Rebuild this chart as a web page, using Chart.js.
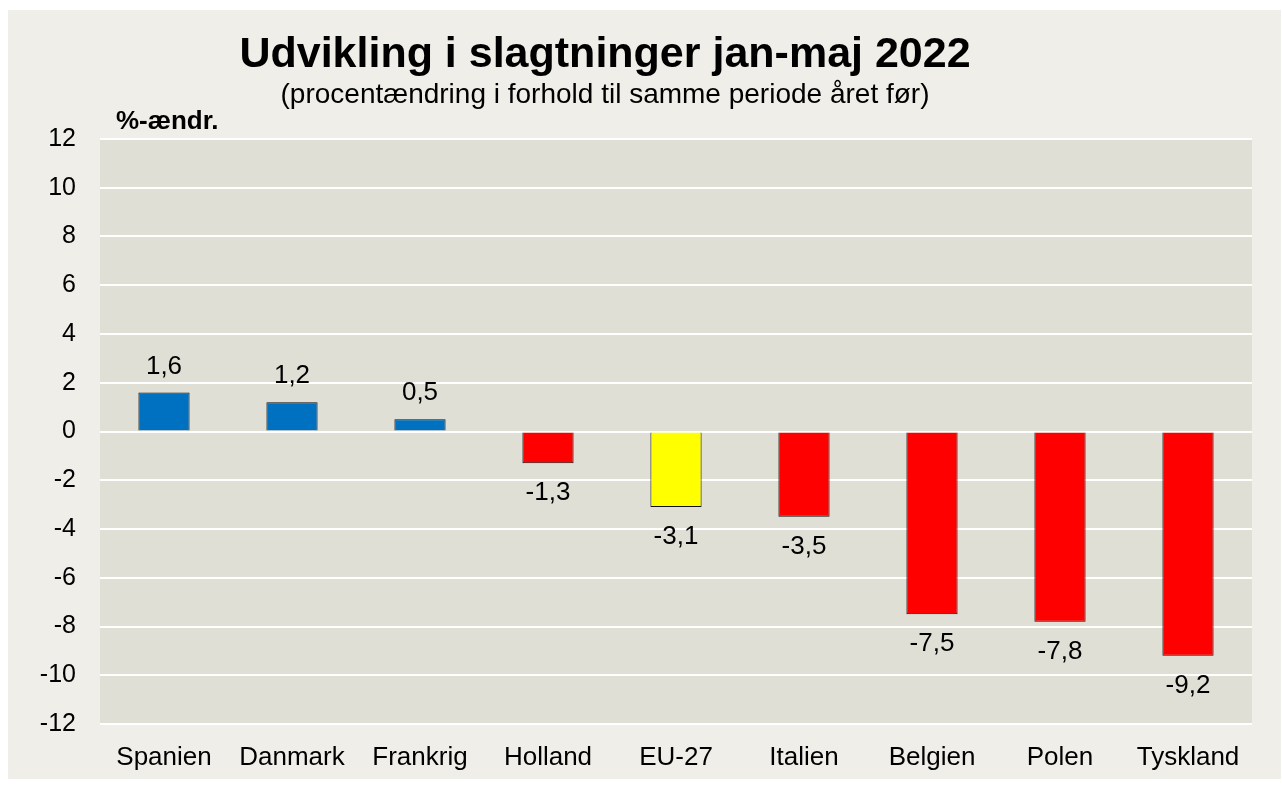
<!DOCTYPE html>
<html>
<head>
<meta charset="utf-8">
<script src="https://cdn.jsdelivr.net/npm/chart.js@4.4.0/dist/chart.umd.min.js"></script>
<style>
  html, body { margin: 0; padding: 0; background: #ffffff; }
  #wrap { width: 1282px; height: 789px; }
</style>
</head>
<body>
<div id="wrap"><canvas id="slagtChart" width="1282" height="789"></canvas></div>
<script>
const countries = ['Spanien', 'Danmark', 'Frankrig', 'Holland', 'EU-27', 'Italien', 'Belgien', 'Polen', 'Tyskland'];
const changePct = [1.6, 1.2, 0.5, -1.3, -3.1, -3.5, -7.5, -7.8, -9.2];
const yTicks = [-12, -10, -8, -6, -4, -2, 0, 2, 4, 6, 8, 10, 12];

// colours: blue up, red down, EU-27 in yellow
const barColors = ['#0070C0', '#0070C0', '#0070C0', '#FF0000', '#FFFF00', '#FF0000', '#FF0000', '#FF0000', '#FF0000'];

const FONT = "'Liberation Sans', Arial, sans-serif";

// background boxes + titles
const backdrop = {
    id: 'backdrop',
    beforeDraw(chart) {
        const ctx = chart.ctx;
        const a = chart.chartArea;
        ctx.save();
        ctx.fillStyle = '#EFEEE8';
        ctx.fillRect(8, 10, 1273, 769);
        ctx.fillStyle = '#E0DFD5';
        ctx.fillRect(a.left, a.top, a.right - a.left, a.bottom - a.top);
        ctx.restore();
    },
    afterDraw(chart) {
        const ctx = chart.ctx;
        ctx.save();
        ctx.fillStyle = '#000';
        ctx.textAlign = 'center';
        ctx.textBaseline = 'alphabetic';
        ctx.font = 'bold 43px ' + FONT;
        ctx.fillText('Udvikling i slagtninger jan-maj 2022', 605, 67);
        ctx.font = '28px ' + FONT;
        ctx.fillText('(procentændring i forhold til samme periode året før)', 605, 103);
        ctx.textAlign = 'left';
        ctx.font = 'bold 26px ' + FONT;
        ctx.fillText('%-ændr.', 116, 129);
        ctx.restore();
    }
};

// value labels above / below the bars
const valueLabels = {
    id: 'valueLabels',
    afterDatasetsDraw(chart) {
        const ctx = chart.ctx;
        const meta = chart.getDatasetMeta(0);
        ctx.save();
        ctx.fillStyle = '#000';
        ctx.font = '26px ' + FONT;
        ctx.textAlign = 'center';
        ctx.textBaseline = 'middle';
        meta.data.forEach((bar, i) => {
            const v = changePct[i];
            const txt = v.toFixed(1).replace('.', ',');
            const y = v >= 0 ? bar.y - 26 : bar.y + 30;
            ctx.fillText(txt, bar.x, y);
        });
        ctx.restore();
    }
};

new Chart(document.getElementById('slagtChart'), {
    type: 'bar',
    data: {
        labels: countries,
        datasets: [{
            data: changePct,
            backgroundColor: barColors,
            borderColor: '#111111',
            borderWidth: 1,
            barPercentage: 0.4,
            categoryPercentage: 1.0
        }]
    },
    options: {
        responsive: false,
        animation: false,
        devicePixelRatio: 1,
        layout: { padding: { left: 0, top: 139, right: 30, bottom: 0 } },
        plugins: {
            legend: { display: false },
            tooltip: { enabled: false },
            title: { display: false }
        },
        scales: {
            x: {
                grid: { display: false, drawTicks: false },
                border: { display: false },
                ticks: { color: '#000', font: { family: FONT, size: 26 }, padding: 18, maxRotation: 0 },
                afterFit(scale) { scale.height = 65; }
            },
            y: {
                min: -12,
                max: 12,
                afterBuildTicks(scale) { scale.ticks = yTicks.map(v => ({ value: v })); },
                grid: { color: '#FFFFFF', lineWidth: 2, drawTicks: false },
                border: { display: false },
                ticks: { color: '#000', font: { family: FONT, size: 25 }, padding: 24 },
                afterFit(scale) { scale.width = 100; }
            }
        }
    },
    plugins: [backdrop, valueLabels]
});
</script>
</body>
</html>
